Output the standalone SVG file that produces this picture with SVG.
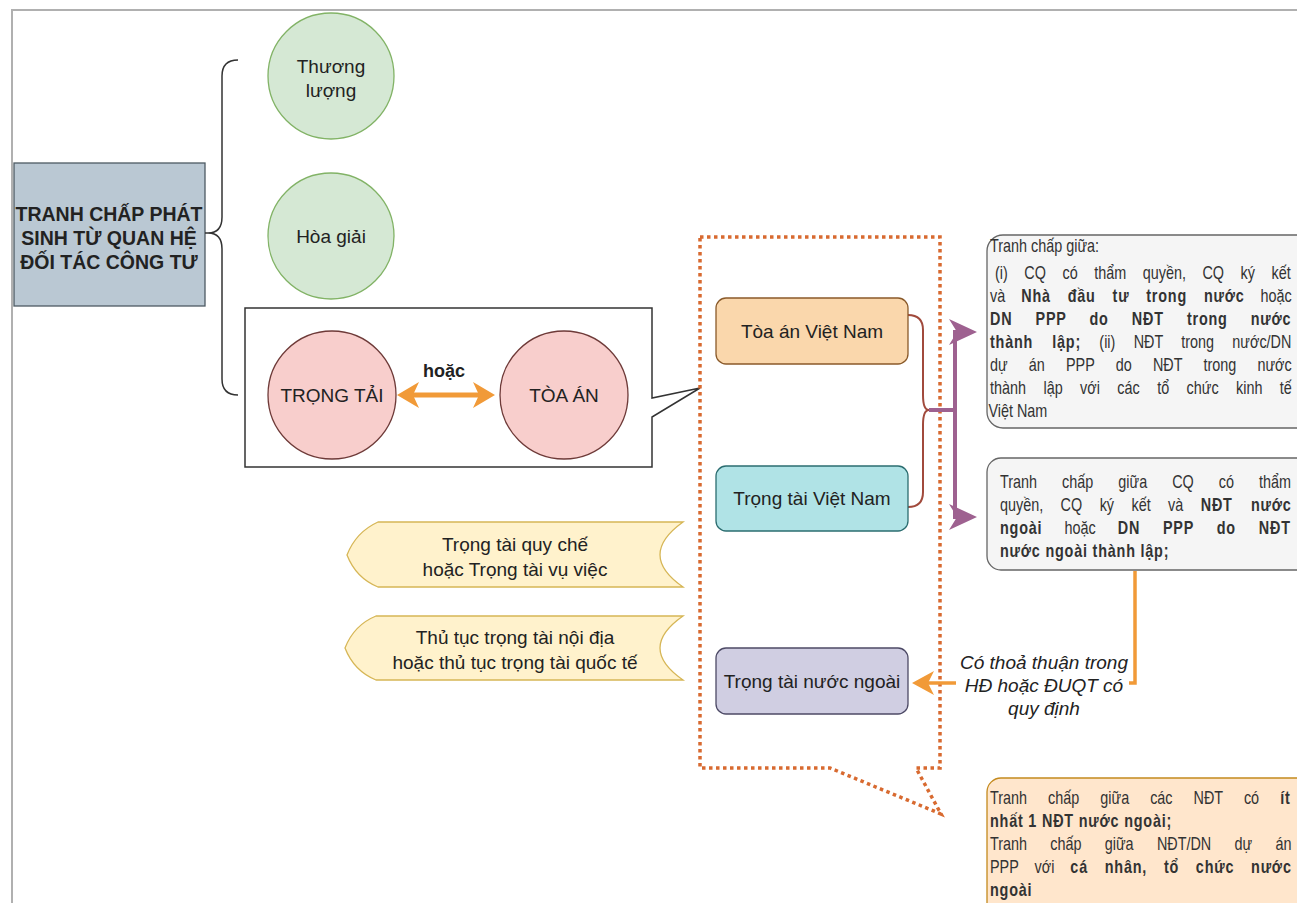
<svg xmlns="http://www.w3.org/2000/svg" width="1297" height="903" viewBox="0 0 1297 903">
<style>
text{font-family:"Liberation Sans",Arial,sans-serif;fill:#222}
.c{text-anchor:middle;font-size:19px}
.b{font-weight:bold}
.t{font-size:18px;fill:#333}
.t .b,.t.b{letter-spacing:1px}
.green{fill:#d5e8d4;stroke:#82b366;stroke-width:1.3}
.pink{fill:#f8cecc;stroke:#6e3a38;stroke-width:1.3}
.tag{fill:#fff2cc;stroke:#d6b656;stroke-width:1.3}
.gbox{fill:#f5f5f5;stroke:#666;stroke-width:1.3}
</style>
<defs>
<marker id="aOr" markerUnits="userSpaceOnUse" markerWidth="22" markerHeight="26" viewBox="0 0 22 26" refX="14" refY="13" orient="auto-start-reverse">
<path d="M0,0 L22,13 L0,26 L6,13 Z" fill="#f19a38"/>
</marker>
<marker id="aOr2" markerUnits="userSpaceOnUse" markerWidth="22" markerHeight="24" viewBox="0 0 22 24" refX="13" refY="12" orient="auto">
<path d="M0,0 L22,12 L0,24 L6,12 Z" fill="#f19a38"/>
</marker>
<marker id="aPu" markerUnits="userSpaceOnUse" markerWidth="28" markerHeight="26" viewBox="0 0 28 26" refX="19" refY="13" orient="auto">
<path d="M0,0 L28,13 L0,26 L8,13 Z" fill="#9e6190"/>
</marker>
</defs>
<rect width="1297" height="903" fill="#fff"/>
<path d="M12,903 L12,10 L1297,10" fill="none" stroke="#b0b0b0" stroke-width="2"/>

<g id="root">
<rect x="14" y="163" width="191" height="143" fill="#bac8d3" stroke="#4d5a63" stroke-width="1.3"/>
<text class="c b" x="109" y="221" style="font-size:19.5px">TRANH CHẤP PHÁT</text>
<text class="c b" x="109" y="245" style="font-size:19.5px">SINH TỪ QUAN HỆ</text>
<text class="c b" x="109" y="269" style="font-size:19.5px">ĐỐI TÁC CÔNG TƯ</text>
</g>

<g id="callout">
<path d="M245,308 L652,308 L652,398 L700,388 L652,417 L652,467 L245,467 Z" fill="#fff" stroke="#333" stroke-width="1.5"/>
</g>

<g id="dotted-callout">
<path d="M700,237 L940,237 L940,768 L916,768 L941,814 L830,768 L700,768 Z" fill="none" stroke="#d86a30" stroke-width="3.5" stroke-dasharray="3.5 3.5"/>
</g>

<g id="connectors" fill="none">
<path d="M205,233 L208,233 Q222,233 222,217 L222,76 Q222,60 238,60 M208,233 Q222,233 222,249 L222,379 Q222,395 238,395" stroke="#333" stroke-width="1.5"/>
<line x1="405" y1="395" x2="487" y2="395" stroke="#f19a38" stroke-width="5" marker-start="url(#aOr)" marker-end="url(#aOr)"/>
<path d="M908,315 Q923,315 923,330 L923,395 Q923,410 929,410 Q923,410 923,425 L923,492 Q923,507 908,507" stroke="#a14a3c" stroke-width="2"/>
<path d="M929,410 L955,410 M955,330 L955,519" stroke="#9e6190" stroke-width="4"/>
<path d="M955,332 L968,332" stroke="#9e6190" stroke-width="4" marker-end="url(#aPu)"/>
<path d="M955,517 L968,517" stroke="#9e6190" stroke-width="4" marker-end="url(#aPu)"/>
<path d="M1135,571 L1135,683 L921,683" stroke="#f19a38" stroke-width="3.5" marker-end="url(#aOr2)"/>
</g>

<g id="thuong-luong">
<circle class="green" cx="331" cy="76" r="63"/>
<text class="c" x="331" y="73">Thương</text>
<text class="c" x="331" y="97">lượng</text>
</g>
<g id="hoa-giai">
<circle class="green" cx="331" cy="236" r="63"/>
<text class="c" x="331" y="243">Hòa giải</text>
</g>

<g id="trong-tai">
<circle class="pink" cx="332" cy="395" r="64"/>
<text class="c" x="332" y="402">TRỌNG TẢI</text>
</g>
<g id="toa-an">
<circle class="pink" cx="564" cy="395" r="64"/>
<text class="c" x="564" y="402">TÒA ÁN</text>
</g>
<g id="hoac-label">
<text class="c b" x="444" y="377" style="font-size:18px">hoặc</text>
</g>

<g id="toa-an-vn">
<rect x="716" y="298" width="192" height="66" rx="10" fill="#fad7ac" stroke="#8a5a2a" stroke-width="1.3"/>
<text class="c" x="812" y="338">Tòa án Việt Nam</text>
</g>
<g id="trong-tai-vn">
<rect x="716" y="466" width="192" height="65" rx="10" fill="#b0e3e6" stroke="#2b6d70" stroke-width="1.3"/>
<text class="c" x="812" y="505">Trọng tài Việt Nam</text>
</g>
<g id="trong-tai-nn">
<rect x="716" y="648" width="192" height="66" rx="10" fill="#d0cee2" stroke="#4d4a66" stroke-width="1.3"/>
<text class="c" x="812" y="688">Trọng tài nước ngoài</text>
</g>

<g id="tag-quy-che">
<path class="tag" d="M378,522 L683,522 Q637,555 683,587 L378,587 Q356,578 347,555 Q356,532 378,522 Z"/>
<text class="c" x="515" y="551">Trọng tài quy chế</text>
<text class="c" x="515" y="576">hoặc Trọng tài vụ việc</text>
</g>
<g id="tag-thu-tuc">
<path class="tag" d="M376,616 L683,616 Q637,648 683,680 L376,680 Q354,671 345,648 Q354,625 376,616 Z"/>
<text class="c" x="515" y="644">Thủ tục trọng tài nội địa</text>
<text class="c" x="515" y="669">hoặc thủ tục trọng tài quốc tế</text>
</g>

<g id="box-trong-nuoc">
<rect class="gbox" x="987" y="235" width="330" height="193" rx="16"/>
<text class="t" transform="translate(990 0) scale(0.8 1)" x="0" y="252">Tranh chấp giữa:</text>
<text class="t" transform="translate(990 0) scale(0.8 1)" x="6.25" y="279" word-spacing="15.7">(i) CQ có thẩm quyền, CQ ký kết</text>
<text class="t" transform="translate(990 0) scale(0.8 1)" x="0" y="302" word-spacing="15.1">và <tspan class="b">Nhà đầu tư trong nước</tspan> hoặc</text>
<text class="t b" transform="translate(990 0) scale(0.8 1)" x="0" y="325" word-spacing="22.9">DN PPP do NĐT trong nước</text>
<text class="t" transform="translate(990 0) scale(0.8 1)" x="0" y="348" word-spacing="17.9"><tspan class="b">thành lập;</tspan> (ii) NĐT trong nước/DN</text>
<text class="t" transform="translate(990 0) scale(0.8 1)" x="0" y="371" word-spacing="21.5">dự án PPP do NĐT trong nước</text>
<text class="t" transform="translate(990 0) scale(0.8 1)" x="0" y="394" word-spacing="16.8">thành lập với các tổ chức kinh tế</text>
<text class="t" transform="translate(990 0) scale(0.8 1)" x="-2" y="417">Việt Nam</text>
</g>

<g id="box-nuoc-ngoai">
<rect class="gbox" x="987" y="458" width="330" height="112" rx="14"/>
<text class="t" transform="translate(1000 0) scale(0.8 1)" x="0" y="488" word-spacing="26.3">Tranh chấp giữa CQ có thẩm</text>
<text class="t" transform="translate(1000 0) scale(0.8 1)" x="0" y="511" word-spacing="16.8">quyền, CQ ký kết và <tspan class="b">NĐT nước</tspan></text>
<text class="t" transform="translate(1000 0) scale(0.8 1)" x="0" y="534" word-spacing="22.6"><tspan class="b">ngoài</tspan> hoặc <tspan class="b">DN PPP do NĐT</tspan></text>
<text class="t b" transform="translate(1000 0) scale(0.8 1)" x="0" y="557">nước ngoài thành lập;</text>
</g>

<g id="label-thoa-thuan">
<rect x="956" y="650" width="173" height="72" fill="#fff"/>
<text class="c" x="1044" y="669" font-style="italic">Có thoả thuận trong</text>
<text class="c" x="1044" y="692" font-style="italic">HĐ hoặc ĐUQT có</text>
<text class="c" x="1044" y="715" font-style="italic">quy định</text>
</g>

<g id="box-ndt">
<rect x="987" y="778" width="330" height="140" rx="14" fill="#ffe6cc" stroke="#c48a1e" stroke-width="1.3"/>
<text class="t" transform="translate(990 0) scale(0.8 1)" x="0" y="804" word-spacing="21.3">Tranh chấp giữa các NĐT có <tspan class="b">ít</tspan></text>
<text class="t b" transform="translate(990 0) scale(0.8 1)" x="0" y="827">nhất 1 NĐT nước ngoài;</text>
<text class="t" transform="translate(990 0) scale(0.8 1)" x="0" y="850" word-spacing="24.1">Tranh chấp giữa NĐT/DN dự án</text>
<text class="t" transform="translate(990 0) scale(0.8 1)" x="0" y="873" word-spacing="15">PPP với <tspan class="b">cá nhân, tổ chức nước</tspan></text>
<text class="t b" transform="translate(990 0) scale(0.8 1)" x="0" y="896">ngoài</text>
</g>
</svg>
